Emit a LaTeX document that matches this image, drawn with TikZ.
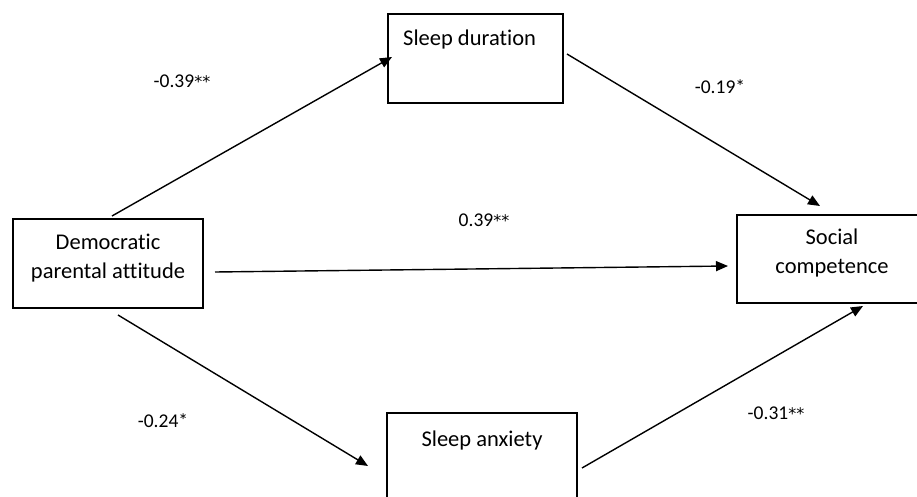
\documentclass[tikz,border=0pt]{standalone}
\usepackage{fontspec}
\setmainfont{Carlito}[Ligatures=NoCommon]
\newfontfamily\dvast{DejaVu Sans}
\newcommand{\twoast}{{\dvast\fontsize{16}{20}\selectfont **}}
\usetikzlibrary{arrows.meta}
\begin{document}
\begin{tikzpicture}[x=1pt,y=-1pt,
  box/.style={draw=black,line width=1.4pt,inner sep=0pt},
  boxtext/.style={inner sep=0pt,font=\fontsize{22.5}{29.5}\selectfont,align=center},
  coef/.style={inner sep=0pt,font=\fontsize{19.5}{23}\selectfont},
  arr/.style={line width=1.4pt,-{Triangle[length=12pt,width=10pt]}}]
\useasboundingbox (0,0) rectangle (917,497);
\clip (0,0) rectangle (917,497);
% boxes
\draw[box] (388,14) rectangle (563,103);
\draw[box] (387,413) rectangle (577,515);
\draw[box] (13,219) rectangle (203,308);
\draw[box] (737,215) rectangle (930,303);
% box texts
\node[boxtext,anchor=west] (sd) at (403,40) {Sleep duration};
\node[boxtext] (sa) at (482,440) {Sleep anxiety};
\node[boxtext] (dem) at (108,258) {Democratic\\parental attitude};
\node[boxtext] (sc) at (832,253) {Social\\competence};
% connector ends
\coordinate (a1s) at (112,216); \coordinate (a1e) at (392,57);
\coordinate (a2s) at (567,54);  \coordinate (a2e) at (820,206);
\coordinate (a3s) at (215,272); \coordinate (a3e) at (728,266);
\coordinate (a4s) at (118,315); \coordinate (a4e) at (368,466);
\coordinate (a5s) at (582,468); \coordinate (a5e) at (863,306);
\draw[arr] (a1s) -- (a1e);
\draw[arr] (a2s) -- (a2e);
\draw[arr] (a3s) -- (a3e);
\draw[arr] (a4s) -- (a4e);
\draw[arr] (a5s) -- (a5e);
% coefficients
\node[coef] (c1) at (182,81) {-0.39\twoast};
\node[coef] (c2) at (720,87) {-0.19*};
\node[coef] (c3) at (484,220) {0.39\twoast};
\node[coef] (c4) at (163,421) {-0.24*};
\node[coef] (c5) at (776,413) {-0.31\twoast};
\end{tikzpicture}
\end{document}
